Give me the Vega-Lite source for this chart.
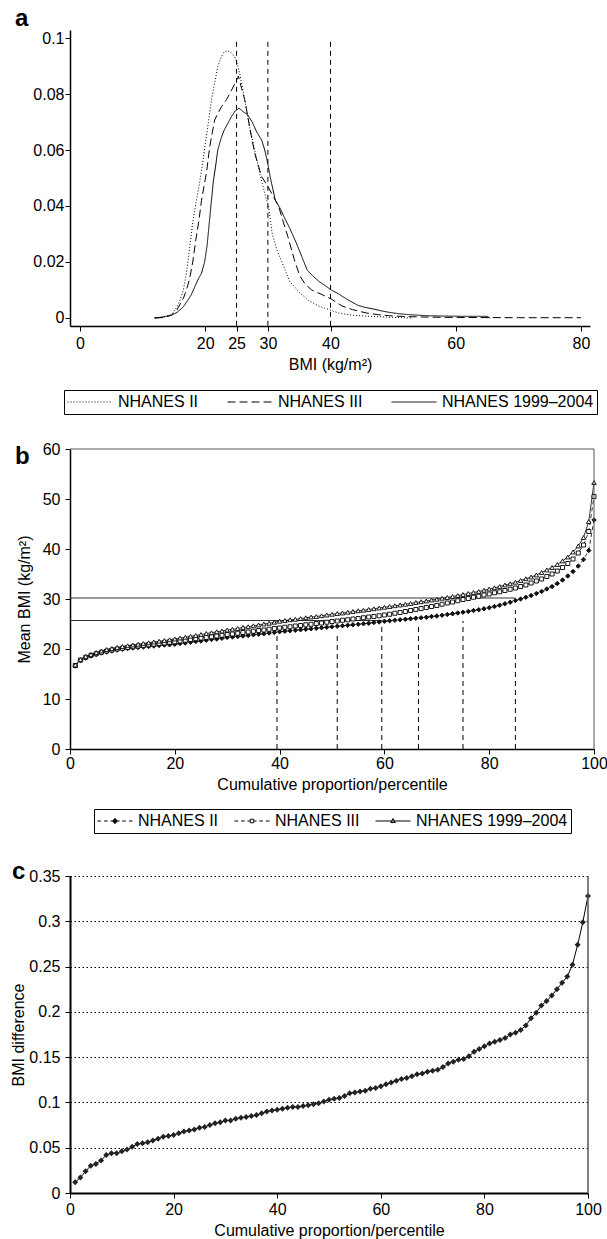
{
"$schema": "https://vega.github.io/schema/vega-lite/v6.json",
"background": "white",
"padding": {"left": 10, "top": 7, "right": 4, "bottom": 2},
"spacing": 26,
"resolve": {"scale": {"strokeDash": "independent", "shape": "independent", "fill": "independent", "stroke": "independent"}, "legend": {"strokeDash": "independent", "shape": "independent", "fill": "independent", "stroke": "independent"}},
"config": {
 "font": "Liberation Sans",
 "view": {"stroke": null},
 "axis": {"grid": false, "domainColor": "black", "domainWidth": 1.5, "tickColor": "black", "tickWidth": 1, "tickSize": 5, "labelFontSize": 16, "titleFontSize": 16, "titleFontWeight": "normal", "labelColor": "black", "titleColor": "black", "labelFlush": false},
 "title": {"color": "black"}
},
"datasets": {
 "cutA": [{"bmi": 25, "lo": -0.0028, "hi": 0.1}, {"bmi": 30, "lo": -0.0028, "hi": 0.1}, {"bmi": 40, "lo": -0.0028, "hi": 0.1}],
 "topB": [{"y": 60}],
 "rightB": [{"x": 100}],
 "legB": [{"s": "NHANES II"}, {"s": "NHANES III"}, {"s": "NHANES 1999–2004"}],
 "hl": [{"y": 30.2, "xs": 0, "xe": 85}, {"y": 25.7, "xs": 0, "xe": 59.5}],
 "vl": [{"x": 39.5, "bot": 0, "top": 23.0}, {"x": 51, "bot": 0, "top": 23.2}, {"x": 59.5, "bot": 0, "top": 24.6}, {"x": 66.5, "bot": 0, "top": 24.8}, {"x": 75, "bot": 0, "top": 25.6}, {"x": 85, "bot": 0, "top": 27.8}],
 "dens": [
  {"s":"NHANES II","bmi":12,"d":0},{"s":"NHANES II","bmi":13.5,"d":0.0003},{"s":"NHANES II","bmi":14.6,"d":0.0012},{"s":"NHANES II","bmi":15.5,"d":0.004},{"s":"NHANES II","bmi":16,"d":0.0065},{"s":"NHANES II","bmi":16.5,"d":0.010},{"s":"NHANES II","bmi":17,"d":0.016},{"s":"NHANES II","bmi":17.5,"d":0.025},{"s":"NHANES II","bmi":18,"d":0.034},{"s":"NHANES II","bmi":18.5,"d":0.041},{"s":"NHANES II","bmi":19,"d":0.047},{"s":"NHANES II","bmi":19.5,"d":0.054},{"s":"NHANES II","bmi":20,"d":0.062},{"s":"NHANES II","bmi":20.5,"d":0.070},{"s":"NHANES II","bmi":21,"d":0.078},{"s":"NHANES II","bmi":21.5,"d":0.084},{"s":"NHANES II","bmi":22,"d":0.0898},{"s":"NHANES II","bmi":22.5,"d":0.093},{"s":"NHANES II","bmi":23,"d":0.095},{"s":"NHANES II","bmi":23.5,"d":0.0955},{"s":"NHANES II","bmi":24,"d":0.095},{"s":"NHANES II","bmi":24.7,"d":0.0933},{"s":"NHANES II","bmi":25.1,"d":0.091},{"s":"NHANES II","bmi":25.5,"d":0.0874},{"s":"NHANES II","bmi":26.3,"d":0.078},{"s":"NHANES II","bmi":27.1,"d":0.068},{"s":"NHANES II","bmi":27.9,"d":0.060},{"s":"NHANES II","bmi":28.7,"d":0.0517},{"s":"NHANES II","bmi":29.5,"d":0.0445},{"s":"NHANES II","bmi":30.1,"d":0.040},{"s":"NHANES II","bmi":30.7,"d":0.030},{"s":"NHANES II","bmi":31.5,"d":0.024},{"s":"NHANES II","bmi":32.6,"d":0.018},{"s":"NHANES II","bmi":33.5,"d":0.013},{"s":"NHANES II","bmi":35.1,"d":0.009},{"s":"NHANES II","bmi":36.5,"d":0.0062},{"s":"NHANES II","bmi":38.2,"d":0.0042},{"s":"NHANES II","bmi":40,"d":0.0028},{"s":"NHANES II","bmi":41.3,"d":0.0018},{"s":"NHANES II","bmi":43.5,"d":0.001},{"s":"NHANES II","bmi":46.3,"d":0.0006},{"s":"NHANES II","bmi":50,"d":0.0002},{"s":"NHANES II","bmi":53,"d":0},
  {"s":"NHANES III","bmi":12,"d":0},{"s":"NHANES III","bmi":13.5,"d":0.0002},{"s":"NHANES III","bmi":14.6,"d":0.001},{"s":"NHANES III","bmi":15.5,"d":0.003},{"s":"NHANES III","bmi":16.5,"d":0.007},{"s":"NHANES III","bmi":17,"d":0.010},{"s":"NHANES III","bmi":17.5,"d":0.014},{"s":"NHANES III","bmi":18,"d":0.020},{"s":"NHANES III","bmi":18.5,"d":0.028},{"s":"NHANES III","bmi":19,"d":0.035},{"s":"NHANES III","bmi":19.4,"d":0.042},{"s":"NHANES III","bmi":19.8,"d":0.047},{"s":"NHANES III","bmi":20.2,"d":0.052},{"s":"NHANES III","bmi":20.7,"d":0.061},{"s":"NHANES III","bmi":21.1,"d":0.066},{"s":"NHANES III","bmi":21.5,"d":0.0707},{"s":"NHANES III","bmi":22,"d":0.073},{"s":"NHANES III","bmi":22.6,"d":0.0755},{"s":"NHANES III","bmi":23.4,"d":0.078},{"s":"NHANES III","bmi":24.2,"d":0.0814},{"s":"NHANES III","bmi":24.8,"d":0.084},{"s":"NHANES III","bmi":25.3,"d":0.0864},{"s":"NHANES III","bmi":25.8,"d":0.082},{"s":"NHANES III","bmi":26.3,"d":0.078},{"s":"NHANES III","bmi":27.1,"d":0.068},{"s":"NHANES III","bmi":27.9,"d":0.0588},{"s":"NHANES III","bmi":29,"d":0.0505},{"s":"NHANES III","bmi":30,"d":0.047},{"s":"NHANES III","bmi":30.6,"d":0.0445},{"s":"NHANES III","bmi":31.7,"d":0.040},{"s":"NHANES III","bmi":32.5,"d":0.034},{"s":"NHANES III","bmi":33.2,"d":0.029},{"s":"NHANES III","bmi":34.2,"d":0.021},{"s":"NHANES III","bmi":35.1,"d":0.015},{"s":"NHANES III","bmi":36,"d":0.012},{"s":"NHANES III","bmi":37,"d":0.010},{"s":"NHANES III","bmi":38.5,"d":0.0085},{"s":"NHANES III","bmi":40.1,"d":0.0068},{"s":"NHANES III","bmi":41.9,"d":0.0042},{"s":"NHANES III","bmi":43.5,"d":0.003},{"s":"NHANES III","bmi":45.7,"d":0.0018},{"s":"NHANES III","bmi":47.5,"d":0.0012},{"s":"NHANES III","bmi":49.4,"d":0.0008},{"s":"NHANES III","bmi":52,"d":0.0005},{"s":"NHANES III","bmi":56,"d":0.0003},{"s":"NHANES III","bmi":60,"d":0.0002},{"s":"NHANES III","bmi":70,"d":0.0001},{"s":"NHANES III","bmi":80,"d":0.0001},
  {"s":"NHANES 1999–2004","bmi":11.8,"d":0},{"s":"NHANES 1999–2004","bmi":13,"d":0.0003},{"s":"NHANES 1999–2004","bmi":14.6,"d":0.001},{"s":"NHANES 1999–2004","bmi":15.5,"d":0.002},{"s":"NHANES 1999–2004","bmi":16.5,"d":0.004},{"s":"NHANES 1999–2004","bmi":17.1,"d":0.006},{"s":"NHANES 1999–2004","bmi":17.7,"d":0.008},{"s":"NHANES 1999–2004","bmi":18.3,"d":0.011},{"s":"NHANES 1999–2004","bmi":18.9,"d":0.014},{"s":"NHANES 1999–2004","bmi":19.4,"d":0.016},{"s":"NHANES 1999–2004","bmi":19.9,"d":0.020},{"s":"NHANES 1999–2004","bmi":20.3,"d":0.026},{"s":"NHANES 1999–2004","bmi":20.6,"d":0.033},{"s":"NHANES 1999–2004","bmi":20.9,"d":0.040},{"s":"NHANES 1999–2004","bmi":21.3,"d":0.049},{"s":"NHANES 1999–2004","bmi":21.7,"d":0.055},{"s":"NHANES 1999–2004","bmi":22,"d":0.060},{"s":"NHANES 1999–2004","bmi":22.5,"d":0.064},{"s":"NHANES 1999–2004","bmi":23,"d":0.067},{"s":"NHANES 1999–2004","bmi":23.6,"d":0.0695},{"s":"NHANES 1999–2004","bmi":24.2,"d":0.072},{"s":"NHANES 1999–2004","bmi":24.8,"d":0.074},{"s":"NHANES 1999–2004","bmi":25.4,"d":0.0749},{"s":"NHANES 1999–2004","bmi":26,"d":0.0738},{"s":"NHANES 1999–2004","bmi":26.8,"d":0.0725},{"s":"NHANES 1999–2004","bmi":27.5,"d":0.070},{"s":"NHANES 1999–2004","bmi":28.2,"d":0.0665},{"s":"NHANES 1999–2004","bmi":29,"d":0.0636},{"s":"NHANES 1999–2004","bmi":29.5,"d":0.060},{"s":"NHANES 1999–2004","bmi":30,"d":0.055},{"s":"NHANES 1999–2004","bmi":30.4,"d":0.050},{"s":"NHANES 1999–2004","bmi":30.8,"d":0.046},{"s":"NHANES 1999–2004","bmi":31.2,"d":0.042},{"s":"NHANES 1999–2004","bmi":32,"d":0.039},{"s":"NHANES 1999–2004","bmi":32.6,"d":0.036},{"s":"NHANES 1999–2004","bmi":33.5,"d":0.032},{"s":"NHANES 1999–2004","bmi":34.5,"d":0.027},{"s":"NHANES 1999–2004","bmi":35.4,"d":0.022},{"s":"NHANES 1999–2004","bmi":36.3,"d":0.017},{"s":"NHANES 1999–2004","bmi":37.2,"d":0.015},{"s":"NHANES 1999–2004","bmi":38.2,"d":0.013},{"s":"NHANES 1999–2004","bmi":39.2,"d":0.0115},{"s":"NHANES 1999–2004","bmi":40.1,"d":0.010},{"s":"NHANES 1999–2004","bmi":41,"d":0.009},{"s":"NHANES 1999–2004","bmi":41.9,"d":0.0077},{"s":"NHANES 1999–2004","bmi":43,"d":0.0062},{"s":"NHANES 1999–2004","bmi":44.4,"d":0.0045},{"s":"NHANES 1999–2004","bmi":45.5,"d":0.0038},{"s":"NHANES 1999–2004","bmi":46.9,"d":0.0032},{"s":"NHANES 1999–2004","bmi":48,"d":0.0026},{"s":"NHANES 1999–2004","bmi":49.4,"d":0.002},{"s":"NHANES 1999–2004","bmi":51,"d":0.0015},{"s":"NHANES 1999–2004","bmi":52.5,"d":0.0012},{"s":"NHANES 1999–2004","bmi":55.6,"d":0.0008},{"s":"NHANES 1999–2004","bmi":58,"d":0.0007},{"s":"NHANES 1999–2004","bmi":61,"d":0.0006},{"s":"NHANES 1999–2004","bmi":65,"d":0.0006},{"s":"NHANES 1999–2004","bmi":65.5,"d":0}
 ],
 "pct": [
  {"p":1,"s":"NHANES II","v":16.6},{"p":2,"s":"NHANES II","v":17.7},{"p":3,"s":"NHANES II","v":18.2},{"p":4,"s":"NHANES II","v":18.6},{"p":5,"s":"NHANES II","v":18.9},{"p":6,"s":"NHANES II","v":19.2},{"p":7,"s":"NHANES II","v":19.4},{"p":8,"s":"NHANES II","v":19.6},{"p":9,"s":"NHANES II","v":19.8},{"p":10,"s":"NHANES II","v":19.95},
  {"p":11,"s":"NHANES II","v":20.1},{"p":12,"s":"NHANES II","v":20.2},{"p":13,"s":"NHANES II","v":20.3},{"p":14,"s":"NHANES II","v":20.4},{"p":15,"s":"NHANES II","v":20.5},{"p":16,"s":"NHANES II","v":20.6},{"p":17,"s":"NHANES II","v":20.7},{"p":18,"s":"NHANES II","v":20.8},{"p":19,"s":"NHANES II","v":20.85},{"p":20,"s":"NHANES II","v":20.95},
  {"p":21,"s":"NHANES II","v":21.1},{"p":22,"s":"NHANES II","v":21.2},{"p":23,"s":"NHANES II","v":21.35},{"p":24,"s":"NHANES II","v":21.5},{"p":25,"s":"NHANES II","v":21.6},{"p":26,"s":"NHANES II","v":21.75},{"p":27,"s":"NHANES II","v":21.9},{"p":28,"s":"NHANES II","v":22.0},{"p":29,"s":"NHANES II","v":22.15},{"p":30,"s":"NHANES II","v":22.3},
  {"p":31,"s":"NHANES II","v":22.4},{"p":32,"s":"NHANES II","v":22.5},{"p":33,"s":"NHANES II","v":22.6},{"p":34,"s":"NHANES II","v":22.7},{"p":35,"s":"NHANES II","v":22.85},{"p":36,"s":"NHANES II","v":22.95},{"p":37,"s":"NHANES II","v":23.05},{"p":38,"s":"NHANES II","v":23.2},{"p":39,"s":"NHANES II","v":23.3},{"p":40,"s":"NHANES II","v":23.45},
  {"p":41,"s":"NHANES II","v":23.55},{"p":42,"s":"NHANES II","v":23.65},{"p":43,"s":"NHANES II","v":23.75},{"p":44,"s":"NHANES II","v":23.85},{"p":45,"s":"NHANES II","v":23.95},{"p":46,"s":"NHANES II","v":24.05},{"p":47,"s":"NHANES II","v":24.15},{"p":48,"s":"NHANES II","v":24.25},{"p":49,"s":"NHANES II","v":24.35},{"p":50,"s":"NHANES II","v":24.45},
  {"p":51,"s":"NHANES II","v":24.55},{"p":52,"s":"NHANES II","v":24.65},{"p":53,"s":"NHANES II","v":24.75},{"p":54,"s":"NHANES II","v":24.85},{"p":55,"s":"NHANES II","v":24.95},{"p":56,"s":"NHANES II","v":25.05},{"p":57,"s":"NHANES II","v":25.15},{"p":58,"s":"NHANES II","v":25.3},{"p":59,"s":"NHANES II","v":25.4},{"p":60,"s":"NHANES II","v":25.55},
  {"p":61,"s":"NHANES II","v":25.65},{"p":62,"s":"NHANES II","v":25.75},{"p":63,"s":"NHANES II","v":25.85},{"p":64,"s":"NHANES II","v":25.95},{"p":65,"s":"NHANES II","v":26.05},{"p":66,"s":"NHANES II","v":26.15},{"p":67,"s":"NHANES II","v":26.25},{"p":68,"s":"NHANES II","v":26.35},{"p":69,"s":"NHANES II","v":26.5},{"p":70,"s":"NHANES II","v":26.6},
  {"p":71,"s":"NHANES II","v":26.75},{"p":72,"s":"NHANES II","v":26.9},{"p":73,"s":"NHANES II","v":27.05},{"p":74,"s":"NHANES II","v":27.2},{"p":75,"s":"NHANES II","v":27.35},{"p":76,"s":"NHANES II","v":27.5},{"p":77,"s":"NHANES II","v":27.7},{"p":78,"s":"NHANES II","v":27.85},{"p":79,"s":"NHANES II","v":28.05},{"p":80,"s":"NHANES II","v":28.25},
  {"p":81,"s":"NHANES II","v":28.5},{"p":82,"s":"NHANES II","v":28.75},{"p":83,"s":"NHANES II","v":29.05},{"p":84,"s":"NHANES II","v":29.35},{"p":85,"s":"NHANES II","v":29.7},{"p":86,"s":"NHANES II","v":30.0},{"p":87,"s":"NHANES II","v":30.35},{"p":88,"s":"NHANES II","v":30.7},{"p":89,"s":"NHANES II","v":31.1},{"p":90,"s":"NHANES II","v":31.5},
  {"p":91,"s":"NHANES II","v":32.0},{"p":92,"s":"NHANES II","v":32.5},{"p":93,"s":"NHANES II","v":33.1},{"p":94,"s":"NHANES II","v":33.8},{"p":95,"s":"NHANES II","v":34.6},{"p":96,"s":"NHANES II","v":35.5},{"p":97,"s":"NHANES II","v":36.6},{"p":98,"s":"NHANES II","v":37.9},{"p":99,"s":"NHANES II","v":39.7},{"p":100,"s":"NHANES II","v":45.8},
  {"p":1,"s":"NHANES III","v":16.7},{"p":2,"s":"NHANES III","v":17.8},{"p":3,"s":"NHANES III","v":18.35},{"p":4,"s":"NHANES III","v":18.75},{"p":5,"s":"NHANES III","v":19.05},{"p":6,"s":"NHANES III","v":19.35},{"p":7,"s":"NHANES III","v":19.6},{"p":8,"s":"NHANES III","v":19.8},{"p":9,"s":"NHANES III","v":20.0},{"p":10,"s":"NHANES III","v":20.15},
  {"p":11,"s":"NHANES III","v":20.3},{"p":12,"s":"NHANES III","v":20.45},{"p":13,"s":"NHANES III","v":20.6},{"p":14,"s":"NHANES III","v":20.7},{"p":15,"s":"NHANES III","v":20.85},{"p":16,"s":"NHANES III","v":20.95},{"p":17,"s":"NHANES III","v":21.1},{"p":18,"s":"NHANES III","v":21.2},{"p":19,"s":"NHANES III","v":21.35},{"p":20,"s":"NHANES III","v":21.45},
  {"p":21,"s":"NHANES III","v":21.6},{"p":22,"s":"NHANES III","v":21.75},{"p":23,"s":"NHANES III","v":21.9},{"p":24,"s":"NHANES III","v":22.05},{"p":25,"s":"NHANES III","v":22.2},{"p":26,"s":"NHANES III","v":22.3},{"p":27,"s":"NHANES III","v":22.45},{"p":28,"s":"NHANES III","v":22.6},{"p":29,"s":"NHANES III","v":22.75},{"p":30,"s":"NHANES III","v":22.9},
  {"p":31,"s":"NHANES III","v":23.0},{"p":32,"s":"NHANES III","v":23.15},{"p":33,"s":"NHANES III","v":23.3},{"p":34,"s":"NHANES III","v":23.4},{"p":35,"s":"NHANES III","v":23.55},{"p":36,"s":"NHANES III","v":23.7},{"p":37,"s":"NHANES III","v":23.8},{"p":38,"s":"NHANES III","v":23.95},{"p":39,"s":"NHANES III","v":24.1},{"p":40,"s":"NHANES III","v":24.2},
  {"p":41,"s":"NHANES III","v":24.35},{"p":42,"s":"NHANES III","v":24.45},{"p":43,"s":"NHANES III","v":24.6},{"p":44,"s":"NHANES III","v":24.7},{"p":45,"s":"NHANES III","v":24.85},{"p":46,"s":"NHANES III","v":24.95},{"p":47,"s":"NHANES III","v":25.1},{"p":48,"s":"NHANES III","v":25.2},{"p":49,"s":"NHANES III","v":25.35},{"p":50,"s":"NHANES III","v":25.5},
  {"p":51,"s":"NHANES III","v":25.6},{"p":52,"s":"NHANES III","v":25.75},{"p":53,"s":"NHANES III","v":25.85},{"p":54,"s":"NHANES III","v":26.0},{"p":55,"s":"NHANES III","v":26.1},{"p":56,"s":"NHANES III","v":26.25},{"p":57,"s":"NHANES III","v":26.4},{"p":58,"s":"NHANES III","v":26.5},{"p":59,"s":"NHANES III","v":26.65},{"p":60,"s":"NHANES III","v":26.8},
  {"p":61,"s":"NHANES III","v":26.95},{"p":62,"s":"NHANES III","v":27.15},{"p":63,"s":"NHANES III","v":27.3},{"p":64,"s":"NHANES III","v":27.5},{"p":65,"s":"NHANES III","v":27.7},{"p":66,"s":"NHANES III","v":27.9},{"p":67,"s":"NHANES III","v":28.1},{"p":68,"s":"NHANES III","v":28.3},{"p":69,"s":"NHANES III","v":28.5},{"p":70,"s":"NHANES III","v":28.7},
  {"p":71,"s":"NHANES III","v":28.95},{"p":72,"s":"NHANES III","v":29.2},{"p":73,"s":"NHANES III","v":29.4},{"p":74,"s":"NHANES III","v":29.65},{"p":75,"s":"NHANES III","v":29.9},{"p":76,"s":"NHANES III","v":30.1},{"p":77,"s":"NHANES III","v":30.35},{"p":78,"s":"NHANES III","v":30.55},{"p":79,"s":"NHANES III","v":30.8},{"p":80,"s":"NHANES III","v":31.0},
  {"p":81,"s":"NHANES III","v":31.25},{"p":82,"s":"NHANES III","v":31.45},{"p":83,"s":"NHANES III","v":31.7},{"p":84,"s":"NHANES III","v":31.95},{"p":85,"s":"NHANES III","v":32.2},{"p":86,"s":"NHANES III","v":32.5},{"p":87,"s":"NHANES III","v":32.8},{"p":88,"s":"NHANES III","v":33.2},{"p":89,"s":"NHANES III","v":33.6},{"p":90,"s":"NHANES III","v":34.0},
  {"p":91,"s":"NHANES III","v":34.5},{"p":92,"s":"NHANES III","v":35.0},{"p":93,"s":"NHANES III","v":35.6},{"p":94,"s":"NHANES III","v":36.3},{"p":95,"s":"NHANES III","v":37.1},{"p":96,"s":"NHANES III","v":38.0},{"p":97,"s":"NHANES III","v":39.2},{"p":98,"s":"NHANES III","v":40.8},{"p":99,"s":"NHANES III","v":43.5},{"p":100,"s":"NHANES III","v":50.5},
  {"p":1,"s":"NHANES 1999–2004","v":16.8},{"p":2,"s":"NHANES 1999–2004","v":17.9},{"p":3,"s":"NHANES 1999–2004","v":18.5},{"p":4,"s":"NHANES 1999–2004","v":18.9},{"p":5,"s":"NHANES 1999–2004","v":19.3},{"p":6,"s":"NHANES 1999–2004","v":19.6},{"p":7,"s":"NHANES 1999–2004","v":19.9},{"p":8,"s":"NHANES 1999–2004","v":20.1},{"p":9,"s":"NHANES 1999–2004","v":20.3},{"p":10,"s":"NHANES 1999–2004","v":20.5},
  {"p":11,"s":"NHANES 1999–2004","v":20.65},{"p":12,"s":"NHANES 1999–2004","v":20.8},{"p":13,"s":"NHANES 1999–2004","v":20.95},{"p":14,"s":"NHANES 1999–2004","v":21.1},{"p":15,"s":"NHANES 1999–2004","v":21.25},{"p":16,"s":"NHANES 1999–2004","v":21.4},{"p":17,"s":"NHANES 1999–2004","v":21.55},{"p":18,"s":"NHANES 1999–2004","v":21.7},{"p":19,"s":"NHANES 1999–2004","v":21.85},{"p":20,"s":"NHANES 1999–2004","v":22.0},
  {"p":21,"s":"NHANES 1999–2004","v":22.2},{"p":22,"s":"NHANES 1999–2004","v":22.35},{"p":23,"s":"NHANES 1999–2004","v":22.55},{"p":24,"s":"NHANES 1999–2004","v":22.7},{"p":25,"s":"NHANES 1999–2004","v":22.9},{"p":26,"s":"NHANES 1999–2004","v":23.1},{"p":27,"s":"NHANES 1999–2004","v":23.25},{"p":28,"s":"NHANES 1999–2004","v":23.45},{"p":29,"s":"NHANES 1999–2004","v":23.6},{"p":30,"s":"NHANES 1999–2004","v":23.8},
  {"p":31,"s":"NHANES 1999–2004","v":23.95},{"p":32,"s":"NHANES 1999–2004","v":24.1},{"p":33,"s":"NHANES 1999–2004","v":24.3},{"p":34,"s":"NHANES 1999–2004","v":24.45},{"p":35,"s":"NHANES 1999–2004","v":24.65},{"p":36,"s":"NHANES 1999–2004","v":24.8},{"p":37,"s":"NHANES 1999–2004","v":25.0},{"p":38,"s":"NHANES 1999–2004","v":25.15},{"p":39,"s":"NHANES 1999–2004","v":25.35},{"p":40,"s":"NHANES 1999–2004","v":25.55},
  {"p":41,"s":"NHANES 1999–2004","v":25.7},{"p":42,"s":"NHANES 1999–2004","v":25.85},{"p":43,"s":"NHANES 1999–2004","v":25.95},{"p":44,"s":"NHANES 1999–2004","v":26.1},{"p":45,"s":"NHANES 1999–2004","v":26.25},{"p":46,"s":"NHANES 1999–2004","v":26.4},{"p":47,"s":"NHANES 1999–2004","v":26.5},{"p":48,"s":"NHANES 1999–2004","v":26.65},{"p":49,"s":"NHANES 1999–2004","v":26.8},{"p":50,"s":"NHANES 1999–2004","v":26.95},
  {"p":51,"s":"NHANES 1999–2004","v":27.1},{"p":52,"s":"NHANES 1999–2004","v":27.2},{"p":53,"s":"NHANES 1999–2004","v":27.35},{"p":54,"s":"NHANES 1999–2004","v":27.5},{"p":55,"s":"NHANES 1999–2004","v":27.65},{"p":56,"s":"NHANES 1999–2004","v":27.75},{"p":57,"s":"NHANES 1999–2004","v":27.9},{"p":58,"s":"NHANES 1999–2004","v":28.05},{"p":59,"s":"NHANES 1999–2004","v":28.2},{"p":60,"s":"NHANES 1999–2004","v":28.35},
  {"p":61,"s":"NHANES 1999–2004","v":28.5},{"p":62,"s":"NHANES 1999–2004","v":28.65},{"p":63,"s":"NHANES 1999–2004","v":28.8},{"p":64,"s":"NHANES 1999–2004","v":28.95},{"p":65,"s":"NHANES 1999–2004","v":29.1},{"p":66,"s":"NHANES 1999–2004","v":29.3},{"p":67,"s":"NHANES 1999–2004","v":29.45},{"p":68,"s":"NHANES 1999–2004","v":29.6},{"p":69,"s":"NHANES 1999–2004","v":29.8},{"p":70,"s":"NHANES 1999–2004","v":29.95},
  {"p":71,"s":"NHANES 1999–2004","v":30.15},{"p":72,"s":"NHANES 1999–2004","v":30.3},{"p":73,"s":"NHANES 1999–2004","v":30.5},{"p":74,"s":"NHANES 1999–2004","v":30.7},{"p":75,"s":"NHANES 1999–2004","v":30.9},{"p":76,"s":"NHANES 1999–2004","v":31.1},{"p":77,"s":"NHANES 1999–2004","v":31.3},{"p":78,"s":"NHANES 1999–2004","v":31.5},{"p":79,"s":"NHANES 1999–2004","v":31.75},{"p":80,"s":"NHANES 1999–2004","v":32.0},
  {"p":81,"s":"NHANES 1999–2004","v":32.25},{"p":82,"s":"NHANES 1999–2004","v":32.5},{"p":83,"s":"NHANES 1999–2004","v":32.8},{"p":84,"s":"NHANES 1999–2004","v":33.05},{"p":85,"s":"NHANES 1999–2004","v":33.35},{"p":86,"s":"NHANES 1999–2004","v":33.7},{"p":87,"s":"NHANES 1999–2004","v":34.05},{"p":88,"s":"NHANES 1999–2004","v":34.4},{"p":89,"s":"NHANES 1999–2004","v":34.8},{"p":90,"s":"NHANES 1999–2004","v":35.3},
  {"p":91,"s":"NHANES 1999–2004","v":35.8},{"p":92,"s":"NHANES 1999–2004","v":36.3},{"p":93,"s":"NHANES 1999–2004","v":36.9},{"p":94,"s":"NHANES 1999–2004","v":37.6},{"p":95,"s":"NHANES 1999–2004","v":38.4},{"p":96,"s":"NHANES 1999–2004","v":39.4},{"p":97,"s":"NHANES 1999–2004","v":40.6},{"p":98,"s":"NHANES 1999–2004","v":42.3},{"p":99,"s":"NHANES 1999–2004","v":45.5},{"p":100,"s":"NHANES 1999–2004","v":53.3}
 ],
 "diff": [
  {"p":1,"d":0.012},{"p":2,"d":0.017},{"p":3,"d":0.024},{"p":4,"d":0.030},{"p":5,"d":0.032},{"p":6,"d":0.036},{"p":7,"d":0.042},{"p":8,"d":0.044},{"p":9,"d":0.044},{"p":10,"d":0.046},
  {"p":11,"d":0.048},{"p":12,"d":0.051},{"p":13,"d":0.054},{"p":14,"d":0.055},{"p":15,"d":0.056},{"p":16,"d":0.058},{"p":17,"d":0.060},{"p":18,"d":0.062},{"p":19,"d":0.063},{"p":20,"d":0.064},
  {"p":21,"d":0.066},{"p":22,"d":0.068},{"p":23,"d":0.069},{"p":24,"d":0.070},{"p":25,"d":0.072},{"p":26,"d":0.073},{"p":27,"d":0.075},{"p":28,"d":0.077},{"p":29,"d":0.078},{"p":30,"d":0.080},
  {"p":31,"d":0.080},{"p":32,"d":0.082},{"p":33,"d":0.083},{"p":34,"d":0.084},{"p":35,"d":0.085},{"p":36,"d":0.086},{"p":37,"d":0.088},{"p":38,"d":0.090},{"p":39,"d":0.091},{"p":40,"d":0.092},
  {"p":41,"d":0.093},{"p":42,"d":0.094},{"p":43,"d":0.095},{"p":44,"d":0.095},{"p":45,"d":0.096},{"p":46,"d":0.097},{"p":47,"d":0.098},{"p":48,"d":0.099},{"p":49,"d":0.101},{"p":50,"d":0.103},
  {"p":51,"d":0.104},{"p":52,"d":0.105},{"p":53,"d":0.107},{"p":54,"d":0.110},{"p":55,"d":0.111},{"p":56,"d":0.112},{"p":57,"d":0.113},{"p":58,"d":0.115},{"p":59,"d":0.116},{"p":60,"d":0.118},
  {"p":61,"d":0.120},{"p":62,"d":0.122},{"p":63,"d":0.124},{"p":64,"d":0.126},{"p":65,"d":0.127},{"p":66,"d":0.129},{"p":67,"d":0.131},{"p":68,"d":0.132},{"p":69,"d":0.134},{"p":70,"d":0.135},
  {"p":71,"d":0.136},{"p":72,"d":0.139},{"p":73,"d":0.143},{"p":74,"d":0.145},{"p":75,"d":0.147},{"p":76,"d":0.148},{"p":77,"d":0.151},{"p":78,"d":0.156},{"p":79,"d":0.159},{"p":80,"d":0.162},
  {"p":81,"d":0.165},{"p":82,"d":0.167},{"p":83,"d":0.169},{"p":84,"d":0.171},{"p":85,"d":0.175},{"p":86,"d":0.177},{"p":87,"d":0.180},{"p":88,"d":0.185},{"p":89,"d":0.193},{"p":90,"d":0.199},
  {"p":91,"d":0.207},{"p":92,"d":0.212},{"p":93,"d":0.218},{"p":94,"d":0.225},{"p":95,"d":0.232},{"p":96,"d":0.239},{"p":97,"d":0.252},{"p":98,"d":0.274},{"p":99,"d":0.299},{"p":100,"d":0.328}
 ]
},
"vconcat": [
 {
  "width": 520, "height": 296,
  "title": {"text": "a", "anchor": "start", "frame": "group", "fontSize": 24, "fontWeight": "bold", "dx": -55, "dy": 1, "offset": 0},
  "layer": [
   {"data": {"name": "dens"},
    "mark": {"type": "line", "strokeWidth": 1, "color": "black"},
    "encoding": {
     "x": {"field": "bmi", "type": "quantitative", "scale": {"domain": [-1.6, 81.44], "nice": false, "zero": false}, "axis": {"values": [0, 20, 25, 30, 40, 60, 80], "title": "BMI (kg/m²)", "labelPadding": 4, "titlePadding": 5}},
     "y": {"field": "d", "type": "quantitative", "scale": {"domain": [-0.00286, 0.10286], "nice": false, "zero": false}, "axis": {"values": [0, 0.02, 0.04, 0.06, 0.08, 0.1], "format": "~g", "title": null, "labelPadding": 1}},
     "strokeDash": {"field": "s", "type": "nominal",
      "scale": {"domain": ["NHANES II", "NHANES III", "NHANES 1999–2004"], "range": [[1, 2], [8, 4], [1, 0]]},
      "legend": {"title": null, "orient": "none", "legendX": -6, "legendY": 360, "direction": "horizontal", "columns": 3, "symbolType": "stroke", "symbolSize": 2025, "symbolStrokeWidth": 1, "symbolStrokeColor": "black", "clipHeight": 18, "labelFontSize": 16, "labelColor": "black", "labelOffset": 5, "columnPadding": 28, "strokeColor": "black", "padding": 3}}
    }},
   {"data": {"name": "cutA"},
    "mark": {"type": "rule", "strokeDash": [5, 4], "strokeWidth": 1, "color": "black"},
    "encoding": {
     "x": {"field": "bmi", "type": "quantitative"},
     "y": {"field": "lo", "type": "quantitative"},
     "y2": {"field": "hi"}
    }}
  ]
 },
 {
  "width": 524, "height": 300,
  "title": {"text": "b", "anchor": "start", "frame": "group", "fontSize": 24, "fontWeight": "bold", "dx": -55, "dy": 28, "offset": 0},
  "layer": [
   {"data": {"name": "hl"},
    "mark": {"type": "rule", "color": "#333", "strokeWidth": 1},
    "encoding": {"x": {"field": "xs", "type": "quantitative", "scale": {"domain": [0, 100], "nice": false}, "axis": {"values": [0, 20, 40, 60, 80, 100], "title": "Cumulative proportion/percentile", "labelPadding": 1, "titlePadding": 5}}, "x2": {"field": "xe"}, "y": {"field": "y", "type": "quantitative", "scale": {"domain": [0, 60], "nice": false}, "axis": {"values": [0, 10, 20, 30, 40, 50, 60], "title": "Mean BMI (kg/m²)", "labelPadding": 5, "titlePadding": 10}}}},
   {"data": {"name": "vl"},
    "mark": {"type": "rule", "color": "black", "strokeWidth": 1, "strokeDash": [5, 4]},
    "encoding": {"x": {"field": "x", "type": "quantitative"}, "y": {"field": "bot", "type": "quantitative"}, "y2": {"field": "top"}}},
   {"data": {"name": "pct"},
    "transform": [{"filter": "datum.s === 'NHANES II'"}],
    "mark": {"type": "line", "strokeWidth": 0.8, "color": "black", "strokeDash": [4, 3]},
    "encoding": {"x": {"field": "p", "type": "quantitative"}, "y": {"field": "v", "type": "quantitative"}}},
   {"data": {"name": "pct"},
    "transform": [{"filter": "datum.s === 'NHANES III'"}],
    "mark": {"type": "line", "strokeWidth": 0.8, "color": "black", "strokeDash": [4, 3]},
    "encoding": {"x": {"field": "p", "type": "quantitative"}, "y": {"field": "v", "type": "quantitative"}}},
   {"data": {"name": "pct"},
    "transform": [{"filter": "datum.s === 'NHANES 1999–2004'"}],
    "mark": {"type": "line", "strokeWidth": 0.8, "color": "black"},
    "encoding": {"x": {"field": "p", "type": "quantitative"}, "y": {"field": "v", "type": "quantitative"}}},
   {"data": {"name": "pct"},
    "transform": [{"filter": "datum.s === 'NHANES II'"}],
    "mark": {"type": "point", "shape": "diamond", "filled": true, "fill": "#111", "stroke": "black", "strokeWidth": 0.8, "size": 20, "opacity": 1},
    "encoding": {"x": {"field": "p", "type": "quantitative"}, "y": {"field": "v", "type": "quantitative"}}},
   {"data": {"name": "pct"},
    "transform": [{"filter": "datum.s === 'NHANES III'"}],
    "mark": {"type": "point", "shape": "square", "filled": true, "fill": "white", "stroke": "black", "strokeWidth": 0.9, "size": 16, "opacity": 1},
    "encoding": {"x": {"field": "p", "type": "quantitative"}, "y": {"field": "v", "type": "quantitative"}}},
   {"data": {"name": "pct"},
    "transform": [{"filter": "datum.s === 'NHANES 1999–2004'"}],
    "mark": {"type": "point", "shape": "triangle-up", "filled": true, "fill": "white", "stroke": "black", "strokeWidth": 0.9, "size": 20, "opacity": 1},
    "encoding": {"x": {"field": "p", "type": "quantitative"}, "y": {"field": "v", "type": "quantitative"}}},
   {"data": {"name": "legB"},
    "mark": {"type": "point", "filled": true, "opacity": 0, "strokeWidth": 1},
    "encoding": {
     "shape": {"field": "s", "type": "nominal",
      "scale": {"domain": ["NHANES II", "NHANES III", "NHANES 1999–2004"], "range": ["M-1,0H-0.8M-0.62,0H-0.42M-0.26,0H-0.14M0.14,0H0.26M0.42,0H0.62M0.8,0H1M0,-0.15L0.14,0L0,0.15L-0.14,0Z", "M-1,0H-0.8M-0.62,0H-0.42M-0.26,0H-0.12M0.12,0H0.26M0.42,0H0.62M0.8,0H1M-0.1,-0.1H0.1V0.1H-0.1Z", "M-1,0H1M0,-0.14L0.13,0.09L-0.13,0.09Z"]},
      "legend": {"title": null, "orient": "none", "legendX": 24, "legendY": 360, "direction": "horizontal", "columns": 3, "symbolSize": 1225, "symbolOpacity": 1, "symbolStrokeWidth": 1, "symbolStrokeColor": "black", "clipHeight": 18, "labelFontSize": 16, "labelColor": "black", "labelOffset": 5, "columnPadding": 15, "strokeColor": "black", "padding": 3}},
     "fill": {"field": "s", "type": "nominal",
      "scale": {"domain": ["NHANES II", "NHANES III", "NHANES 1999–2004"], "range": ["black", "white", "white"]},
      "legend": {"title": null, "orient": "none", "legendX": 24, "legendY": 360, "direction": "horizontal", "columns": 3, "symbolSize": 1225, "symbolOpacity": 1, "symbolStrokeWidth": 1, "symbolStrokeColor": "black", "clipHeight": 18, "labelFontSize": 16, "labelColor": "black", "labelOffset": 5, "columnPadding": 15, "strokeColor": "black", "padding": 3}},
     "stroke": {"field": "s", "type": "nominal",
      "scale": {"domain": ["NHANES II", "NHANES III", "NHANES 1999–2004"], "range": ["black", "black", "black"]},
      "legend": {"title": null, "orient": "none", "legendX": 24, "legendY": 360, "direction": "horizontal", "columns": 3, "symbolSize": 1225, "symbolOpacity": 1, "symbolStrokeWidth": 1, "symbolStrokeColor": "black", "clipHeight": 18, "labelFontSize": 16, "labelColor": "black", "labelOffset": 5, "columnPadding": 15, "strokeColor": "black", "padding": 3}}
    }},
   {"data": {"name": "topB"},
    "mark": {"type": "rule", "color": "#555", "strokeWidth": 1},
    "encoding": {"y": {"field": "y", "type": "quantitative"}}},
   {"data": {"name": "rightB"},
    "mark": {"type": "rule", "color": "#555", "strokeWidth": 1},
    "encoding": {"x": {"field": "x", "type": "quantitative"}}}
  ]
 },
 {
  "width": 518, "height": 317,
  "title": {"text": "c", "anchor": "start", "frame": "group", "fontSize": 24, "fontWeight": "bold", "dx": -58, "dy": 16, "offset": 0},
  "layer": [
   {"data": {"name": "diff"},
    "mark": {"type": "line", "color": "black", "strokeWidth": 1, "point": {"shape": "diamond", "filled": true, "size": 36, "color": "#222"}},
    "encoding": {
     "x": {"field": "p", "type": "quantitative", "scale": {"domain": [0, 100], "nice": false}, "axis": {"values": [0, 20, 40, 60, 80, 100], "title": "Cumulative proportion/percentile", "labelPadding": 3, "titlePadding": 5, "domainWidth": 2}},
     "y": {"field": "d", "type": "quantitative", "scale": {"domain": [0, 0.35], "nice": false}, "axis": {"values": [0, 0.05, 0.1, 0.15, 0.2, 0.25, 0.3, 0.35], "format": "~g", "title": "BMI difference", "labelPadding": 5, "titlePadding": 2, "grid": true, "gridDash": [1.5, 2.5], "gridColor": "black", "gridWidth": 1, "domainWidth": 2}}
    }},
   {"data": {"name": "rightB"},
    "mark": {"type": "rule", "color": "#555", "strokeWidth": 1.5},
    "encoding": {"x": {"field": "x", "type": "quantitative"}}}
  ]
 }
]
}
